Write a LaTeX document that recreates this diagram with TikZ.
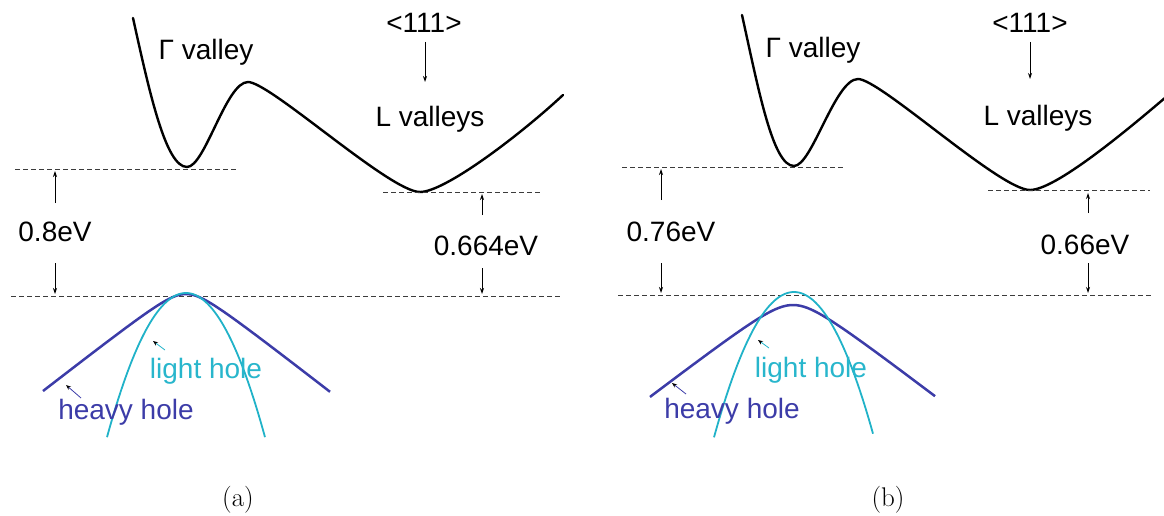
\documentclass[tikz,border=0pt]{standalone}
\usepackage{fontspec}
\newfontfamily\labelfont{Liberation Sans}
\usetikzlibrary{arrows.meta}
\definecolor{hh}{RGB}{60,60,168}
\definecolor{lh}{RGB}{32,178,200}
\definecolor{lhtext}{RGB}{40,182,204}
\definecolor{dashgray}{RGB}{60,60,60}
\begin{document}
\begin{tikzpicture}[x=1pt,y=-1pt,
  band/.style={line width=2.4pt, black, line join=round, line cap=round},
  lvl/.style={dashgray, line width=1pt, dash pattern=on 5pt off 3pt},
  dimarrow/.style={line width=0.8pt, -{Stealth[length=6pt,width=4pt]}},
  ptr/.style={line width=0.8pt, -{Stealth[black,length=5pt,width=4pt]}},
  lbl/.style={font=\labelfont\fontsize{28}{33}\selectfont, anchor=base, inner sep=0pt},
  caplbl/.style={font=\fontsize{27}{32}\selectfont, anchor=base, inner sep=0pt},
  hhcurve/.style={hh, line width=2.5pt},
  lhcurve/.style={lh, line width=1.8pt}]
\useasboundingbox (0,0) rectangle (1164,516);

% ================= panel (a) =================
\coordinate (aS) at (133,18);
\coordinate (aGm) at (187,167);
\coordinate (aP) at (248,82);
\coordinate (aLm) at (420,192);
\coordinate (aE) at (563,95);
\draw[band] (aS) .. controls (150,95) and (166,167) .. (aGm)
  .. controls (205,167) and (226,82) .. (aP)
  .. controls (270,82) and (390,192) .. (aLm)
  .. controls (445,192) and (520,135) .. (aE);

% level lines
\coordinate (aG1) at (15,169);  \coordinate (aG2) at (237,169);
\coordinate (aL1) at (383,192); \coordinate (aL2) at (540,192);
\coordinate (aV1) at (11,296);  \coordinate (aV2) at (560,296);
\draw[lvl] (aG1) -- (aG2);
\draw[lvl] (aL1) -- (aL2);
\draw[lvl] (aV1) -- (aV2);

% labels
\node[lbl] (aGam) at (206,60) {Γ valley};
\node[lbl] (a111) at (424,33) {<111>};
\node[lbl] (aLv) at (430,127) {L valleys};
\node[lbl] (a08) at (55,241) {0.8eV};
\node[lbl] (a0664) at (486,255) {0.664eV};

% arrows
\coordinate (a111s) at (425,42); \coordinate (a111e) at (425,82);
\draw[dimarrow] (a111s) -- (a111e);
\coordinate (aLu1) at (55,203); \coordinate (aLu2) at (55,171);
\coordinate (aLd1) at (55,263); \coordinate (aLd2) at (55,294);
\draw[dimarrow] (aLu1) -- (aLu2);
\draw[dimarrow] (aLd1) -- (aLd2);
\coordinate (aRu1) at (482,215); \coordinate (aRu2) at (482,194);
\coordinate (aRd1) at (482,268); \coordinate (aRd2) at (482,294);
\draw[dimarrow] (aRu1) -- (aRu2);
\draw[dimarrow] (aRd1) -- (aRd2);

% valence bands
\draw[hhcurve] plot[domain=43:330, samples=90]
  (\x, {294+0.78*(10*sqrt(((\x-186)/10)^2+4)-20)});
\draw[lhcurve] plot[domain=107:265, samples=70]
  (\x, {293+0.0231*(\x-186)^2});

\node[lbl, text=lhtext] (alh) at (206,378) {light hole};
\node[lbl, text=hh] (ahh) at (126,419) {heavy hole};
\coordinate (alhs) at (165,350); \coordinate (alhe) at (153,341);
\draw[ptr, lh] (alhs) -- (alhe);
\coordinate (ahhs) at (81,398); \coordinate (ahhe) at (66,385);
\draw[ptr, hh] (ahhs) -- (ahhe);

\node[caplbl] (capa) at (238,506) {(a)};

% ================= panel (b) =================
\coordinate (bS) at (742,15);
\coordinate (bGm) at (794,166);
\coordinate (bP) at (858,79);
\coordinate (bLm) at (1030,190);
\coordinate (bE) at (1166,97);
\draw[band] (bS) .. controls (759,92) and (773,166) .. (bGm)
  .. controls (812,166) and (835,79) .. (bP)
  .. controls (880,79) and (1000,190) .. (bLm)
  .. controls (1055,190) and (1125,132) .. (bE);

\coordinate (bG1) at (622,167);  \coordinate (bG2) at (845,167);
\coordinate (bL1) at (988,190);  \coordinate (bL2) at (1150,190);
\coordinate (bV1) at (618,295);  \coordinate (bV2) at (1152,295);
\draw[lvl] (bG1) -- (bG2);
\draw[lvl] (bL1) -- (bL2);
\draw[lvl] (bV1) -- (bV2);

\node[lbl] (bGam) at (813,58) {Γ valley};
\node[lbl] (b111) at (1030,33) {<111>};
\node[lbl] (bLv) at (1038,125) {L valleys};
\node[lbl] (b076) at (671,241) {0.76eV};
\node[lbl] (b066) at (1085,254) {0.66eV};

\coordinate (b111s) at (1030,42); \coordinate (b111e) at (1030,79);
\draw[dimarrow] (b111s) -- (b111e);
\coordinate (bLu1) at (661,200); \coordinate (bLu2) at (661,169);
\coordinate (bLd1) at (661,263); \coordinate (bLd2) at (661,293);
\draw[dimarrow] (bLu1) -- (bLu2);
\draw[dimarrow] (bLd1) -- (bLd2);
\coordinate (bRu1) at (1088,213); \coordinate (bRu2) at (1088,193);
\coordinate (bRd1) at (1088,263); \coordinate (bRd2) at (1088,293);
\draw[dimarrow] (bRu1) -- (bRu2);
\draw[dimarrow] (bRd1) -- (bRd2);

\draw[hhcurve] plot[domain=650:935, samples=90]
  (\x, {305+0.765*(10*sqrt(((\x-793)/10)^2+6.25)-25)});
\draw[lhcurve] plot[domain=714:873, samples=70]
  (\x, {292+0.0227*(\x-794)^2});

\node[lbl, text=lhtext] (blh) at (811,377) {light hole};
\node[lbl, text=hh] (bhh) at (732,418) {heavy hole};
\coordinate (blhs) at (769,348); \coordinate (blhe) at (758,340);
\draw[ptr, lh] (blhs) -- (blhe);
\coordinate (bhhs) at (686,394); \coordinate (bhhe) at (672,383);
\draw[ptr, hh] (bhhs) -- (bhhe);

\node[caplbl] (capb) at (888,506) {(b)};
\end{tikzpicture}
\end{document}
